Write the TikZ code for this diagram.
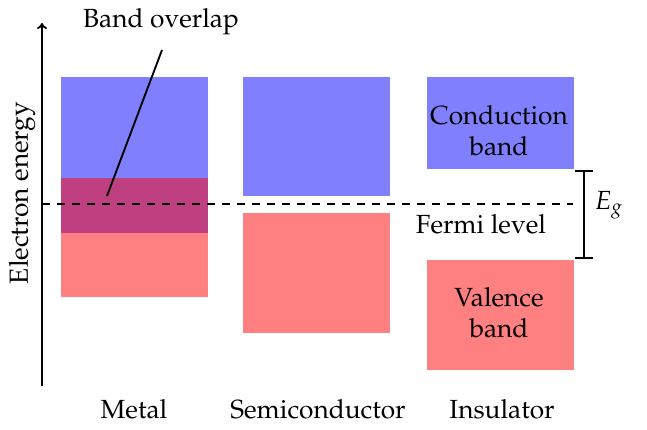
\documentclass[tikz,border=0pt]{standalone}
\usepackage[T1]{fontenc}
\usepackage{mathpazo}
\usetikzlibrary{arrows.meta}
\definecolor{cband}{RGB}{128,128,255}
\definecolor{vband}{RGB}{255,128,128}
\definecolor{oband}{RGB}{191,64,128}
\begin{document}
\begin{tikzpicture}[x=0.4pt,y=-0.4pt,
  every node/.style={font=\fontsize{10.5}{12.4}\selectfont},
  band/.style={draw=none,inner sep=0pt,outer sep=0pt,minimum width=58.8pt,anchor=north west},
  lbl/.style={inner sep=1pt,align=center},
  ln/.style={line width=0.75pt}]
\useasboundingbox (0,0) rectangle (647,430);
% bands
\node[band,fill=cband,minimum height=40.4pt] (mc) at (61,77) {};
\node[band,fill=oband,minimum height=22pt] (mo) at (61,178) {};
\node[band,fill=vband,minimum height=25.6pt] (mv) at (61,233) {};
\node[band,fill=cband,minimum height=47.6pt] (sc) at (243,77) {};
\node[band,fill=vband,minimum height=48pt] (sv) at (243,213) {};
\node[band,fill=cband,minimum height=36.8pt] (ic) at (427,77) {};
\node[band,fill=vband,minimum height=44pt] (iv) at (427,260) {};
% band labels
\node[lbl] (ctext) at (499,131) {Conduction\\band};
\node[lbl] (vtext) at (499,313) {Valence\\band};
% axis
\coordinate (ax0) at (42,386);
\coordinate (ax1) at (42,23);
\draw[ln,-{To[length=2.4pt,width=4pt]}] (ax0) -- (ax1);
\node[lbl,rotate=90] (ylab) at (22,193) {Electron energy};
% fermi level
\coordinate (f0) at (42,204);
\coordinate (f1) at (573,204);
\draw[line width=0.6pt,dashed] (f0) -- (f1);
\node[lbl] (fermi) at (481,224) {Fermi level};
% gap bracket
\coordinate (g0) at (584,170);
\coordinate (g1) at (584,259);
\draw[ln,{Bar[width=7.2pt]}-{Bar[width=7.2pt]}] (g0) -- (g1);
\node[lbl] (eg) at (609,205) {$E_g$};
% band overlap
\node[lbl] (ov) at (161,22) {Band overlap};
\coordinate (p0) at (162,50);
\coordinate (p1) at (107,196);
\draw[ln] (p0) -- (p1);
% material labels
\node[lbl] (metal) at (134,409) {Metal};
\node[lbl] (semi) at (318,409) {Semiconductor};
\node[lbl] (ins) at (502,409) {Insulator};
\end{tikzpicture}
\end{document}
